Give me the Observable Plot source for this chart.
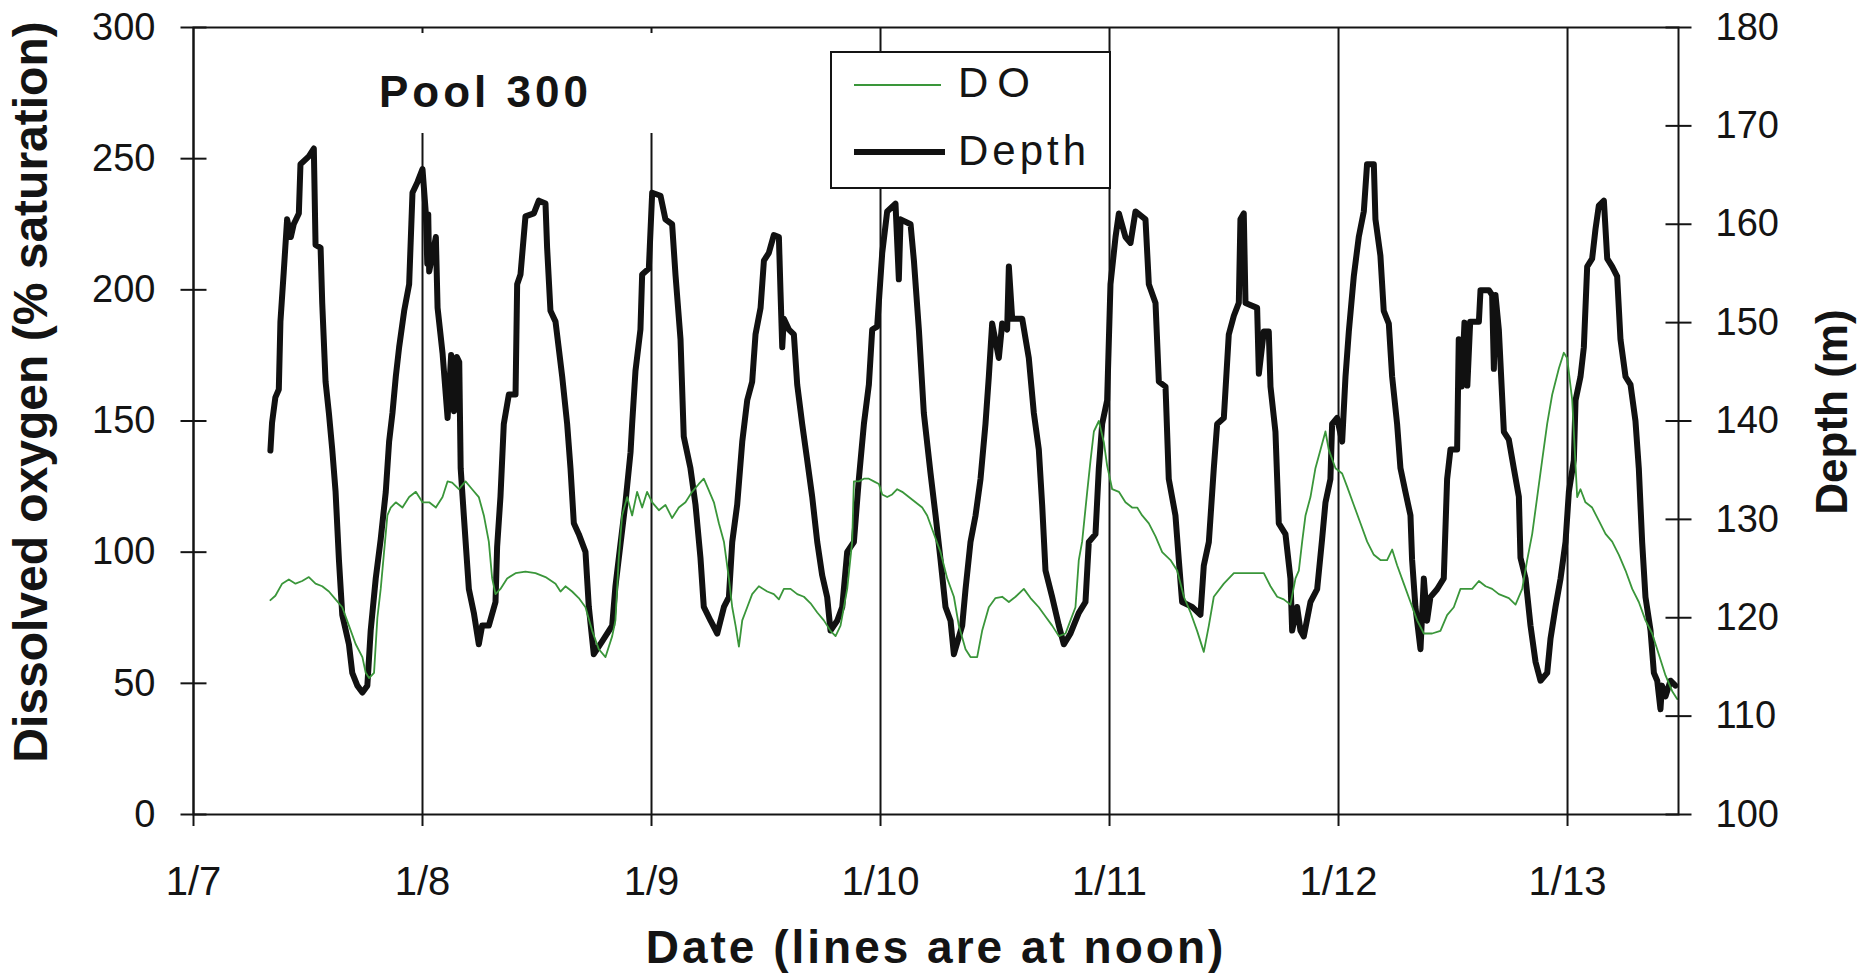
<!DOCTYPE html>
<html>
<head>
<meta charset="utf-8">
<script src="https://cdn.jsdelivr.net/npm/d3@7"></script>
<script src="https://cdn.jsdelivr.net/npm/@observablehq/plot@0.6"></script>
<style>
  html, body { margin: 0; padding: 0; background: #fff; }
  #chart { width: 1857px; height: 976px; }
</style>
</head>
<body>
<div id="chart"></div>
<script>
// ---------- data ----------
const dateLabels = ["1/7", "1/8", "1/9", "1/10", "1/11", "1/12", "1/13"];
const noonHours = [12, 36, 60, 84, 108, 132, 156];          // hours after 1/7 00:00
const doTicks = [0, 50, 100, 150, 200, 250, 300];
const depthTicks = [100, 110, 120, 130, 140, 150, 160, 170, 180];
const seriesNames = ["DO", "Depth"];
const chartTitle = "Pool 300";
const xTitle = "Date (lines are at noon)";
const yLeftTitle = "Dissolved oxygen (% saturation)";
const yRightTitle = "Depth (m)";

// [hours after 1/7 00:00, depth m]
const depthReadings = [
  [20.06,137.0],[20.23,139.8],[20.58,142.4],[20.94,143.2],[21.11,150.1],[21.46,155.2],[21.81,160.5],[22.2,158.7],[22.5,160.0],[23.04,161.1],
  [23.21,166.1],[24.09,166.9],[24.61,167.7],[24.79,157.9],[25.32,157.6],[25.49,152.0],[25.84,144.0],[26.19,140.8],[26.54,137.1],[26.89,132.8],
  [27.24,125.9],[27.59,120.3],[28.29,117.3],[28.64,114.4],[29.17,113.1],[29.7,112.4],[30.22,113.1],[30.57,118.7],[31.1,124.0],[31.62,128.0],
  [32.15,132.8],[32.5,137.9],[32.85,140.8],[33.2,144.5],[33.55,147.5],[34.08,151.2],[34.6,153.9],[34.95,163.2],[35.48,164.3],[36.0,165.6],
  [36.35,161.1],[36.5,156.0],[36.6,161.0],[36.7,155.2],[37.4,158.7],[37.58,151.5],[38.1,146.9],[38.63,140.3],[39.0,146.7],[39.3,141.0],
  [39.6,146.5],[39.85,146.0],[40.0,135.2],[40.33,130.4],[40.86,122.9],[41.38,120.5],[41.9,117.3],[42.25,119.2],[42.95,119.2],[43.65,121.6],
  [43.82,127.2],[44.17,132.3],[44.52,139.7],[45.05,142.7],[45.75,142.7],[45.92,153.9],[46.27,154.9],[46.79,160.8],[47.67,161.1],[48.19,162.4],
  [48.89,162.1],[49.06,157.6],[49.41,151.2],[49.94,150.1],[50.64,144.5],[51.16,139.7],[51.51,135.2],[51.86,129.6],[52.38,128.5],[53.08,126.7],
  [53.43,121.1],[53.95,116.3],[54.83,117.6],[55.88,119.2],[56.22,123.2],[56.75,127.5],[57.27,131.7],[57.8,136.8],[57.97,139.7],[58.32,145.1],
  [58.84,149.3],[59.02,154.9],[59.72,155.5],[60.07,163.2],[60.94,162.9],[61.46,160.5],[62.16,160.0],[62.51,154.9],[63.04,148.3],[63.38,138.4],
  [64.08,135.2],[64.61,131.5],[65.13,126.1],[65.48,121.1],[66.19,119.7],[66.89,118.4],[67.59,121.1],[68.11,122.1],[68.46,127.7],[68.98,131.5],
  [69.51,137.9],[70.03,142.1],[70.55,144.0],[70.9,148.8],[71.43,151.5],[71.78,156.3],[72.3,157.1],[72.82,158.9],[73.35,158.7],[73.52,153.1],
  [73.7,147.5],[73.87,150.4],[74.4,149.3],[74.92,148.8],[75.27,143.7],[75.79,139.7],[76.32,136.0],[76.84,132.3],[77.37,127.7],[77.89,124.3],
  [78.41,122.1],[78.76,118.7],[79.46,119.7],[79.99,121.1],[80.51,126.7],[81.21,127.7],[81.73,134.1],[82.26,139.7],[82.78,143.7],[83.13,149.3],
  [83.65,149.6],[84.18,157.1],[84.7,161.3],[85.57,162.1],[85.92,154.4],[86.1,160.5],[87.15,160.0],[87.5,156.3],[88.02,149.3],[88.54,140.8],
  [89.24,134.7],[89.77,130.4],[90.29,125.9],[90.81,121.1],[91.34,119.7],[91.69,116.3],[92.2,118.0],[92.56,119.2],[92.91,122.9],[93.43,127.7],
  [93.96,130.4],[94.48,134.1],[95.0,139.7],[95.35,144.5],[95.7,149.9],[96.4,146.4],[96.75,149.9],[97.27,149.3],[97.45,155.7],[97.8,150.4],
  [98.85,150.4],[99.54,146.4],[100.07,140.8],[100.59,137.1],[100.94,131.5],[101.29,124.8],[101.99,122.1],[102.69,119.2],[103.21,117.3],[103.91,118.4],
  [104.78,120.5],[105.48,121.6],[105.83,127.7],[106.53,128.5],[106.88,135.2],[107.23,139.7],[107.75,142.1],[108.1,153.9],[108.63,158.7],[108.98,161.1],
  [109.67,158.7],[110.2,158.1],[110.72,161.3],[111.77,160.5],[112.12,153.9],[112.82,152.0],[113.17,144.0],[113.87,143.5],[114.21,134.1],[114.91,130.4],
  [115.26,125.9],[115.61,121.6],[116.66,121.1],[117.53,120.3],[117.88,125.3],[118.41,127.7],[118.93,135.2],[119.28,139.7],[119.98,140.3],[120.5,148.8],
  [121.03,150.7],[121.55,152.0],[121.72,160.5],[122.07,161.1],[122.25,152.0],[123.47,151.5],[123.65,144.8],[124.17,149.1],[124.69,149.1],[124.87,143.5],
  [125.39,138.9],[125.74,129.6],[126.44,128.5],[126.96,124.0],[127.14,118.7],[127.66,121.1],[128.01,118.7],[128.36,118.1],[129.06,121.6],[129.76,122.9],
  [130.28,128.0],[130.63,131.7],[131.15,134.1],[131.33,139.7],[131.85,140.3],[132.38,137.9],[132.73,144.5],[133.08,149.1],[133.6,154.7],[134.12,158.7],
  [134.65,161.3],[134.99,166.1],[135.7,166.1],[135.87,160.5],[136.39,156.8],[136.74,151.2],[137.27,149.9],[137.62,144.5],[138.14,139.7],[138.49,135.2],
  [139.01,132.8],[139.54,130.4],[139.71,125.9],[140.06,121.1],[140.59,116.8],[140.94,124.0],[141.28,119.7],[141.63,122.1],[142.33,122.9],[143.03,124.0],
  [143.38,134.1],[143.73,137.1],[144.43,137.1],[144.6,148.3],[144.9,143.5],[145.2,150.0],[145.5,143.6],[145.8,150.1],[146.71,150.1],[146.88,153.3],
  [147.76,153.3],[148.1,152.8],[148.28,145.3],[148.45,152.8],[148.8,149.3],[149.33,138.9],[149.85,138.1],[150.37,135.2],[150.9,132.3],[151.07,126.1],
  [151.6,124.0],[152.12,119.2],[152.65,115.5],[153.17,113.6],[153.87,114.4],[154.22,117.9],[154.74,121.1],[155.27,124.0],[155.79,127.7],[156.14,132.8],
  [156.66,136.0],[156.84,142.1],[157.36,144.5],[157.71,147.5],[158.06,155.7],[158.58,156.5],[158.93,159.5],[159.28,161.9],[159.81,162.4],[160.16,156.5],
  [160.68,155.7],[161.2,154.7],[161.55,148.3],[162.08,144.5],[162.6,143.7],[163.12,140.0],[163.47,135.2],[163.82,127.7],[164.17,122.1],[164.7,118.7],
  [165.05,114.4],[165.4,113.6],[165.74,110.7],[165.9,113.1],[166.27,112.0],[166.79,113.6],[167.31,113.1]
];

// [hours after 1/7 00:00, DO % saturation]
const doReadings = [
  [20.06,81.7],[20.58,83.4],[21.29,88],[21.99,89.6],[22.69,88],[23.39,89],[24.09,90.5],[24.79,88],[25.49,87],[26.19,85],
  [26.89,82],[27.59,79],[28.29,72],[28.99,65],[29.7,60],[30.05,54],[30.4,52],[30.92,54],[31.27,75],[31.62,86],
  [31.97,100],[32.32,114],[32.67,117],[33.2,119],[33.9,117],[34.6,121],[35.3,123],[36.0,119],[36.7,119],[37.4,117],
  [38.1,121],[38.63,127],[39.11,126.5],[39.81,124],[40.51,127],[41.2,124],[41.9,121],[42.43,114],[42.95,104],[43.3,90],
  [43.65,84],[44.17,86],[44.87,90],[45.75,92],[46.79,92.6],[47.84,92],[48.89,90.5],[49.94,88],[50.46,85],[50.98,87],
  [51.68,85],[52.38,82.5],[53.08,79],[53.78,70],[54.48,63],[55.18,60],[55.88,68],[56.22,74],[56.57,98],[56.92,114],
  [57.45,121],[57.97,114],[58.49,123],[59.02,117],[59.54,123],[60.07,119],[60.77,116],[61.46,118],[62.16,113],[62.86,117],
  [63.56,119],[64.26,123],[64.96,126],[65.48,128],[65.84,125],[66.54,119],[67.06,111],[67.59,104],[68.11,90],[68.46,79],
  [68.81,72],[69.16,64],[69.51,74],[70.03,79],[70.55,84],[71.25,87],[72.13,85],[72.82,84],[73.35,82],[73.87,86],
  [74.57,86],[75.27,84],[75.97,83],[76.67,80.5],[77.37,77],[78.06,74],[78.76,70],[79.29,68],[79.81,72],[80.51,86],
  [81.03,104],[81.21,127],[81.73,127],[82.26,128],[82.78,128],[83.3,127],[83.83,126],[84.18,122],[84.7,121],[85.22,122],
  [85.75,124],[86.27,123],[86.97,121],[87.67,119],[88.37,117],[88.89,114],[89.59,107],[90.29,100],[90.99,90],[91.69,83],
  [92.21,72],[92.91,63],[93.43,60],[94.13,60],[94.65,70],[95.35,79],[96.05,82.5],[96.75,83],[97.45,81],[98.15,83],
  [99.02,86],[99.72,82.5],[100.59,79],[101.29,75.5],[101.99,72],[102.69,68],[103.39,69],[103.91,74],[104.43,79],[104.78,97],
  [105.13,104],[105.66,123],[106.01,135],[106.36,146],[106.88,150],[107.4,142],[107.75,133],[108.28,124],[108.98,123],[109.67,119],
  [110.37,117],[110.9,117],[111.42,114],[112.12,111],[112.82,106],[113.52,100],[114.39,97],[115.09,93],[115.79,83],[116.49,77],
  [117.18,70],[117.88,62],[118.41,72],[118.93,83],[119.98,88],[121.03,92],[122.07,92],[123.12,92],[124.17,92],[124.87,87],
  [125.57,83],[126.26,82],[126.96,80],[127.49,90],[127.84,93],[128.19,104],[128.54,114],[129.06,121],[129.58,132],[130.11,139],
  [130.63,146],[130.98,139],[131.68,132],[132.38,130],[132.9,125],[133.6,118],[134.3,111],[135.0,104],[135.7,99],[136.39,97],
  [137.09,97],[137.62,101],[138.14,95],[138.84,88],[139.54,81],[140.24,74],[140.94,69],[141.81,69],[142.68,70],[143.38,76],
  [144.08,79],[144.78,86],[145.65,86],[146.01,86],[146.71,89],[147.41,87],[148.1,86],[148.8,84],[149.85,82.5],[150.55,80],
  [151.25,86],[151.77,97],[152.3,107],[152.82,121],[153.34,135],[153.87,149],[154.39,160],[155.09,170],[155.61,176],[155.96,174],
  [156.49,158],[157.01,121],[157.36,124],[157.88,119],[158.58,117],[159.28,112],[159.98,107],[160.68,104],[161.38,99],[162.08,93],
  [162.78,86],[163.47,81],[164.17,74],[164.87,69],[165.57,61],[166.27,53],[166.97,47],[167.49,44]
];

// ---------- helpers ----------
const t0 = Date.UTC(2000, 0, 7);
const at = h => new Date(t0 + h * 3600e3);
const DO_MAX = 300, D_MIN = 100, D_MAX = 180;
const depthToY = d => (d - D_MIN) * DO_MAX / (D_MAX - D_MIN);
const xStartHour = 12, xEndHour = 167.63;

const depthData = depthReadings.map(([h, d]) => ({date: at(h), depth: d, y: depthToY(d)}));
const doData = doReadings.map(([h, v]) => ({date: at(h), value: v}));
const noonDates = noonHours.map(at);
const labelOf = new Map(noonDates.map((d, i) => [+d, dateLabels[i]]));
const depthLabelOf = new Map(depthTicks.map(d => [depthToY(d), String(d)]));

// horizontal tick that crosses the axis (half-length = r)
const crossTick = {
  draw(ctx, size) {
    const r = Math.sqrt(size / Math.PI);
    ctx.moveTo(-r, 0);
    ctx.lineTo(r, 0);
  }
};

const INK = "#141414";
const GREEN = "#3a963a";

const svgNode = Plot.plot({
  width: 1857,
  height: 976,
  marginLeft: 193,
  marginRight: 179,
  marginTop: 27,
  marginBottom: 162,
  style: {fontFamily: "'Liberation Sans', Arial, sans-serif", fontSize: "38px", color: INK, background: "#fff"},
  x: {type: "utc", domain: [at(xStartHour), at(xEndHour)]},
  y: {domain: [0, DO_MAX]},
  marks: [
    Plot.ruleX(noonDates, {stroke: INK, strokeWidth: 2}),
    Plot.line(depthData, {x: "date", y: "y", stroke: "#111", strokeWidth: 6}),
    Plot.line(doData, {x: "date", y: "value", stroke: GREEN, strokeWidth: 1.8}),
    Plot.frame({stroke: INK, strokeWidth: 2}),
    Plot.axisY(doTicks, {anchor: "left", tickSize: 0, tickPadding: 38, label: null}),
    Plot.axisY(depthTicks.map(depthToY), {anchor: "right", tickSize: 0, tickPadding: 37, label: null,
      tickFormat: v => depthLabelOf.get(v)}),
    Plot.axisX(noonDates, {anchor: "bottom", tickSize: 12, tickPadding: 40, label: null, strokeWidth: 2,
      fontSize: 40, tickFormat: d => labelOf.get(+d)}),
    Plot.dot(doTicks, {y: d => d, frameAnchor: "left", symbol: crossTick, r: 13, stroke: INK, strokeWidth: 2}),
    Plot.dot(depthTicks, {y: depthToY, frameAnchor: "right", symbol: crossTick, r: 13, stroke: INK, strokeWidth: 2})
  ]
});
document.getElementById("chart").appendChild(svgNode);

// ---------- annotations: label, legend, axis titles ----------
const svg = d3.select(svgNode);
const ann = svg.append("g")
  .attr("font-family", "'Liberation Sans', Arial, sans-serif")
  .attr("text-anchor", "start")
  .attr("fill", INK);

// "Pool 300" label with its white box (hides the noon lines behind it)
ann.append("rect").attr("x", 370).attr("y", 33).attr("width", 300).attr("height", 100).attr("fill", "#fff");
ann.append("text").attr("x", 379).attr("y", 107).attr("font-size", 44).attr("font-weight", "bold")
  .attr("letter-spacing", "4px").text(chartTitle);

// legend
const lg = ann.append("g");
lg.append("rect").attr("x", 831).attr("y", 52).attr("width", 279).attr("height", 136)
  .attr("fill", "#fff").attr("stroke", INK).attr("stroke-width", 2);
lg.append("line").attr("x1", 854).attr("x2", 941).attr("y1", 85).attr("y2", 85)
  .attr("stroke", GREEN).attr("stroke-width", 2);
lg.append("line").attr("x1", 854).attr("x2", 945).attr("y1", 152).attr("y2", 152)
  .attr("stroke", "#111").attr("stroke-width", 6);
lg.append("text").attr("x", 958).attr("y", 97).attr("font-size", 42).attr("letter-spacing", "9px").text(seriesNames[0]);
lg.append("text").attr("x", 958).attr("y", 165).attr("font-size", 42).attr("letter-spacing", "4px").text(seriesNames[1]);

// axis titles
ann.append("text").attr("transform", "translate(47,392) rotate(-90)").attr("text-anchor", "middle")
  .attr("font-size", 48).attr("font-weight", "bold").text(yLeftTitle);
ann.append("text").attr("transform", "translate(1847,412) rotate(-90)").attr("text-anchor", "middle")
  .attr("font-size", 44).attr("font-weight", "bold").text(yRightTitle);
ann.append("text").attr("x", 936).attr("y", 963).attr("text-anchor", "middle")
  .attr("font-size", 46).attr("font-weight", "bold").attr("letter-spacing", "3px").text(xTitle);
</script>
</body>
</html>
